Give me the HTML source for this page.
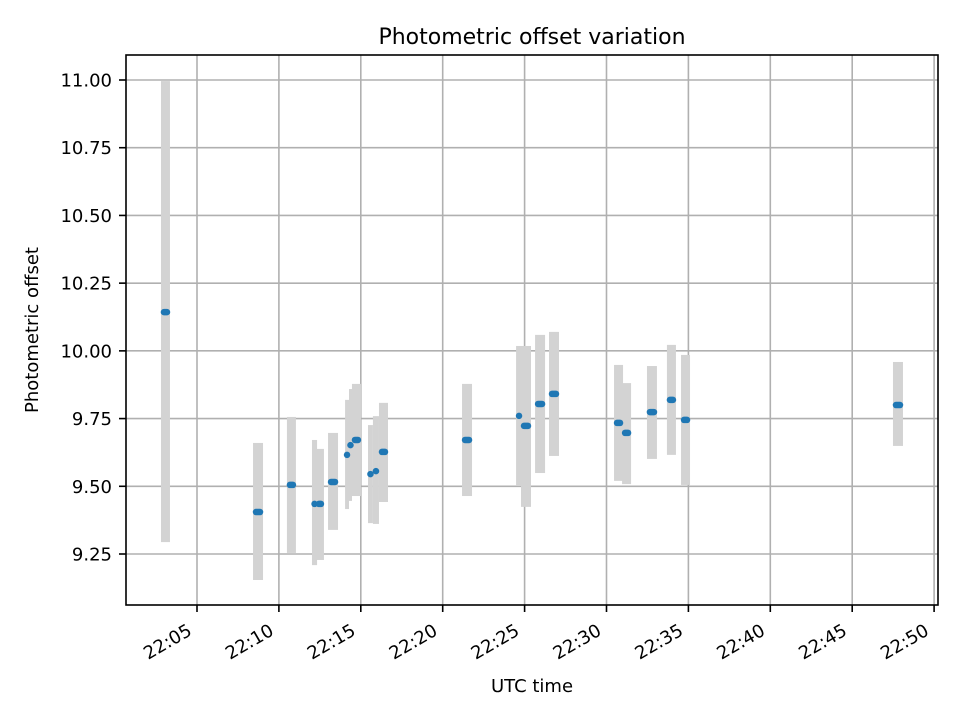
<!DOCTYPE html>
<html><head><meta charset="utf-8"><style>body{margin:0;background:#fff}svg{display:block;font-family:"DejaVu Sans","Liberation Sans",sans-serif}</style></head>
<body>
<svg id="chart" width="960" height="720">
<rect width="960" height="720" fill="#fff"/>
<text x="532" y="44" font-size="22" text-anchor="middle">Photometric offset variation</text>
<text x="532" y="692" font-size="18" text-anchor="middle">UTC time</text>
<text transform="translate(38,330) rotate(-90)" font-size="18" text-anchor="middle">Photometric offset</text>
<g id="grid"></g><g id="bars"></g><g id="pts"></g><g id="axes"></g>
</svg>
<script>
// minutes after 22:00 (exposure start/end), offsets
const tStart=[2.80,8.42,10.49,12.02,12.26,13.00,14.04,14.28,14.46,15.44,15.74,16.11,21.18,24.48,24.78,25.64,26.49,30.46,30.95,32.47,33.69,34.55,47.49];
const tEnd  =[3.35,9.03,11.04,12.33,12.75,13.61,14.28,14.46,15.01,15.74,16.11,16.66,21.79,24.84,25.39,26.25,27.10,31.01,31.50,33.08,34.24,35.10,48.10];
const offset=[10.143,9.405,9.505,9.435,9.435,9.516,9.616,9.652,9.671,9.545,9.556,9.627,9.671,9.760,9.723,9.804,9.841,9.734,9.697,9.774,9.819,9.745,9.800];
const upper =[10.996,9.660,9.756,9.671,9.638,9.697,9.819,9.859,9.878,9.726,9.759,9.808,9.878,10.018,10.018,10.059,10.070,9.948,9.881,9.944,10.022,9.985,9.959];
const lower =[9.294,9.154,9.254,9.209,9.228,9.339,9.416,9.446,9.464,9.364,9.361,9.442,9.464,9.501,9.424,9.549,9.612,9.520,9.508,9.601,9.616,9.505,9.649];
const yTicks=[9.25,9.50,9.75,10.00,10.25,10.50,10.75,11.00];
const xTicks=[5,10,15,20,25,30,35,40,45,50];
const xTickLabels=["22:05","22:10","22:15","22:20","22:25","22:30","22:35","22:40","22:45","22:50"];
const L=126,R=938,T=55,B=605;
const xs=m=>197+(m-5)*16.38;
const ys=v=>80+(11-v)*270.86;
const NS="http://www.w3.org/2000/svg";
function mk(tag,attrs,parent,txt){const e=document.createElementNS(NS,tag);for(const k in attrs)e.setAttribute(k,attrs[k]);if(txt!==undefined)e.textContent=txt;parent.appendChild(e);return e;}
const grid=document.getElementById('grid'),bars=document.getElementById('bars'),pts=document.getElementById('pts'),axes=document.getElementById('axes');
yTicks.forEach((v,i)=>{const y=ys(v);
 const g=mk('line',{x1:L,x2:R,y1:y,y2:y,stroke:'#b0b0b0','stroke-width':1.6},grid);
 
 const t=mk('line',{x1:L-7,x2:L,y1:y,y2:y,stroke:'#000','stroke-width':1.6},axes);
 
 const l=mk('text',{x:L-14,y:y+6.5,'font-size':18,'text-anchor':'end'},axes,v.toFixed(2));
 });
xTicks.forEach((m,i)=>{const x=xs(m);
 const g=mk('line',{x1:x,x2:x,y1:T,y2:B,stroke:'#b0b0b0','stroke-width':1.6},grid);
 
 const t=mk('line',{x1:x,x2:x,y1:B,y2:B+7,stroke:'#000','stroke-width':1.6},axes);
 
 const l=mk('text',{transform:`translate(${x-4},${B+29}) rotate(-30)`,'font-size':18,'text-anchor':'end'},axes,xTickLabels[i]);
 });
const frame=mk('rect',{x:L,y:T,width:R-L,height:B-T,fill:'none',stroke:'#000','stroke-width':1.6},axes);

offset.forEach((v,i)=>{const x0=xs(tStart[i]),x1=xs(tEnd[i]);
 const b=mk('rect',{x:x0,y:ys(upper[i]),width:Math.max(x1-x0,3),height:ys(lower[i])-ys(upper[i]),fill:'#d3d3d3'},bars);
 });
offset.forEach((v,i)=>{const x0=xs(tStart[i]),x1=xs(tEnd[i]);const c=(x0+x1)/2;
 const a=Math.min(x0+3,c),e=Math.max(x1-3,c);
 const p=mk('line',{x1:a,x2:e,y1:ys(v),y2:ys(v),stroke:'#1f77b4','stroke-width':6.5,'stroke-linecap':'round'},pts);
 });
</script>
</body></html>
